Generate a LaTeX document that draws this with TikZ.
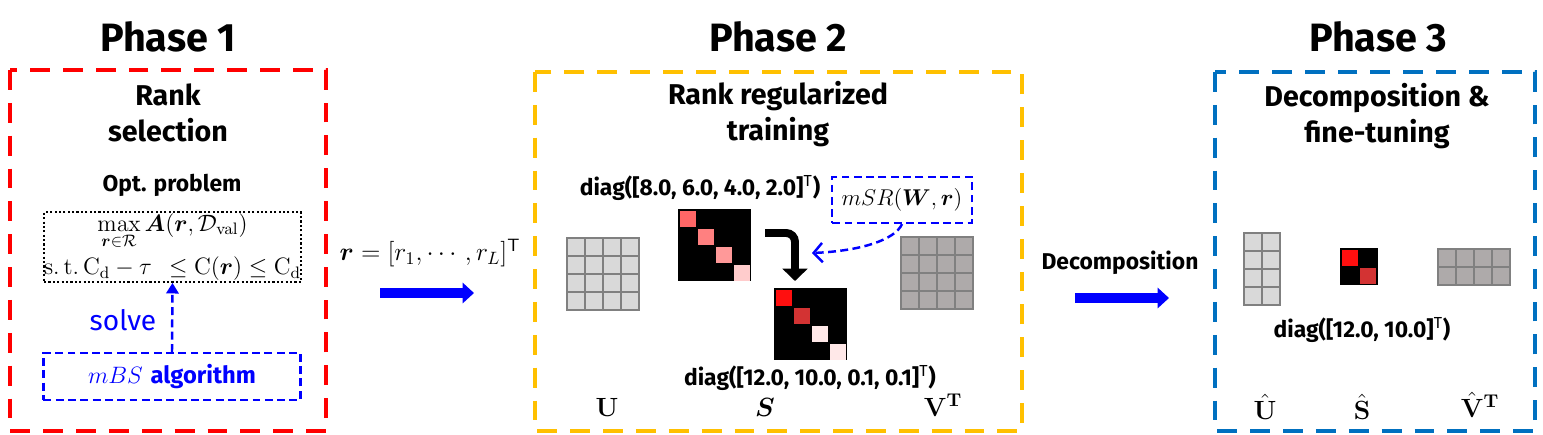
\RequirePackage{fix-cm}
\documentclass[tikz,border=0pt]{standalone}
\usepackage[no-math]{fontspec}
\setsansfont{Fira Sans}
\usepackage{amsmath, amssymb, bm}
\usepackage{tikz}
\usetikzlibrary{arrows.meta, positioning, calc}

\definecolor{phasered}{RGB}{255, 0, 0}
\definecolor{phaseyellow}{RGB}{255, 192, 0}
\definecolor{phaseblue}{RGB}{0, 112, 192}
\definecolor{flowblue}{RGB}{0, 0, 255}
\definecolor{gridgray}{RGB}{128, 128, 128}
\definecolor{ulight}{RGB}{217, 217, 217}
\definecolor{vdark}{RGB}{174, 170, 170}
\definecolor{sa1}{RGB}{255, 102, 102}
\definecolor{sa2}{RGB}{255, 128, 128}
\definecolor{sa3}{RGB}{255, 153, 153}
\definecolor{sa4}{RGB}{255, 204, 204}
\definecolor{sb1}{RGB}{255, 15, 15}
\definecolor{sb2}{RGB}{211, 51, 51}
\definecolor{sb3}{RGB}{255, 232, 232}

\tikzset{
  phasetitle/.style={font=\sffamily\bfseries\fontsize{22.5}{26}\selectfont},
  boxtitle/.style={font=\sffamily\bfseries\fontsize{16.3}{20.5}\selectfont, align=center},
  smalllbl/.style={font=\sffamily\bfseries\fontsize{13}{15}\selectfont},
  phasebox/.style={line width=2.3pt, dash pattern=on 11.3pt off 7.4pt},
  algobox/.style={draw=flowblue, line width=1.4pt, dash pattern=on 4.5pt off 2.5pt, inner sep=0pt},
  algoarrow/.style={draw=flowblue, line width=1.4pt, dash pattern=on 4.5pt off 2.5pt},
  fatarrow/.style={draw=flowblue, line width=5.7pt, -{Triangle[width=11.5pt, length=6.5pt]}},
  gridcell/.style={draw=gridgray, line width=1.2pt},
  matlbl/.style={font=\fontsize{15}{18}\selectfont}
}

\begin{document}
\begin{tikzpicture}[x=0.02cm, y=-0.02cm]
  \useasboundingbox (0,0) rectangle (1543,434);

  % Phase titles
  \node[phasetitle] (p1) at (168,37) {Phase 1};
  \node[phasetitle] (p2) at (778,37) {Phase 2};
  \node[phasetitle] (p3) at (1378,37) {Phase 3};

  % Phase frames
  \draw[phasebox, draw=phasered] (10,70) rectangle (326,431);
  \draw[phasebox, draw=phaseyellow] (535,72) rectangle (1022,431);
  \draw[phasebox, draw=phaseblue] (1215,72) rectangle (1535,431);

  % Phase 1: rank selection
  \node[boxtitle] (t1) at (168,113) {Rank\\selection};
  \node[smalllbl] (optlbl) at (172,185) {Opt. problem};
  \node[draw, line width=1.2pt, dash pattern=on 1.2pt off 1.3pt, minimum width=144.6pt, minimum height=39.7pt,
        inner sep=0pt, align=center, font=\fontsize{13.5}{15}\selectfont] (opt) at (172.5,247) {
    $\max\limits_{\boldsymbol{r}\in\mathcal{R}} \boldsymbol{A}(\boldsymbol{r},\mathcal{D}_{\mathrm{val}})$\\[3pt]
    $\mathrm{s.\,t.}\,\mathrm{C}_{\mathrm{d}}-\tau\;\,\le\mathrm{C}(\boldsymbol{r})\le\mathrm{C}_{\mathrm{d}}$
  };
  \node[algobox, minimum width=146.3pt, minimum height=26.6pt, font=\fontsize{13.5}{16}\selectfont,
        text=flowblue] (mbs) at (172,376.5) {$mBS$ \textsf{\bfseries algorithm}};
  \draw[algoarrow, -{Triangle[width=7pt, length=6pt]}] (mbs.north) -- (opt.south);
  \node[font=\sffamily\fontsize{16}{18}\selectfont, text=flowblue] (solve) at (123,320) {solve};

  % r vector between phase 1 and 2
  \node[font=\fontsize{14.5}{17}\selectfont] (rvec) at (430,253) {$\boldsymbol{r}=[r_1,\cdots,r_L]^{\mathsf{T}}$};
  \coordinate (ra) at (380,293);
  \coordinate (rb) at (474,293);
  \draw[fatarrow] (ra) -- (rb);

  % Phase 2: rank regularized training
  \node[boxtitle] (t2) at (778,114) {Rank regularized\\training};
  \node[smalllbl] (diaga) at (700,188) {diag([8.0, 6.0, 4.0, 2.0]\textsuperscript{\mdseries T})};
  \node[smalllbl] (diagb) at (810,378) {diag([12.0, 10.0, 0.1, 0.1]\textsuperscript{\mdseries T})};

  % U and V^T
  \foreach \i in {0,...,3}
    \foreach \j in {0,...,3} {
      \draw[gridcell, fill=ulight] (567+18*\i,238+18*\j) rectangle +(18,18);
      \draw[gridcell, fill=vdark] (901+18*\i,237+18*\j) rectangle +(18,18);
    }

  % S before and after
  \fill (678,209) rectangle +(73,72);
  \foreach \i/\c in {0/sa1, 1/sa2, 2/sa3, 3/sa4}
    \fill[\c] (680+18*\i,211+18*\i) rectangle +(16,16);
  \fill (774,288) rectangle +(73,72);
  \foreach \i/\c in {0/sb1, 1/sb2, 2/sb3, 3/sb3}
    \fill[\c] (776+18*\i,290+18*\i) rectangle +(16,16);

  \coordinate (bendstart) at (765,233);
  \coordinate (bendend) at (795,281);
  \draw[line width=4.5pt, rounded corners=5pt, -{Triangle[width=14pt, length=7pt]}] (bendstart) -| (bendend);

  % regularizer
  \node[algobox, minimum width=79.4pt, minimum height=26pt, font=\fontsize{13}{15}\selectfont] (msr) at (902,200) {$mSR(\boldsymbol{W},\boldsymbol{r})$};
  \coordinate (msrtip) at (812,253);
  \draw[algoarrow, -{Straight Barb[length=5pt, width=11pt]}] (msr.south) .. controls (895,240) and (860,251) .. (msrtip);

  \node[matlbl] (ulbl) at (607,407) {$\mathbf{U}$};
  \node[matlbl] (slbl) at (765,407) {$\boldsymbol{S}$};
  \node[matlbl] (vlbl) at (943,405) {$\mathbf{V}^{\mathbf{T}}$};

  % Decomposition arrow
  \node[smalllbl] (declbl) at (1120,263) {Decomposition};
  \coordinate (da) at (1075,298);
  \coordinate (db) at (1169,298);
  \draw[fatarrow] (da) -- (db);

  % Phase 3: decomposition & fine-tuning
  \node[boxtitle] (t3) at (1377,116) {Decomposition \&\\fine-tuning};
  \foreach \i in {0,1}
    \foreach \j in {0,...,3} {
      \draw[gridcell, fill=ulight] (1244+18*\i,233+18*\j) rectangle +(18,18);
      \draw[gridcell, fill=vdark] (1438+18*\j,249+18*\i) rectangle +(18,18);
    }
  \fill (1340,248) rectangle +(38,37);
  \foreach \i/\c in {0/sb1, 1/sb2}
    \fill[\c] (1342+18*\i,250+18*\i) rectangle +(16,16);
  \node[smalllbl] (diagc) at (1362,330) {diag([12.0, 10.0]\textsuperscript{\mdseries T})};

  \node[matlbl] (uhat) at (1265,407) {$\hat{\mathbf{U}}$};
  \node[matlbl] (shat) at (1362,407) {$\hat{\mathbf{S}}$};
  \node[matlbl] (vhat) at (1480,405) {$\hat{\mathbf{V}}^{\mathbf{T}}$};
\end{tikzpicture}
\end{document}
